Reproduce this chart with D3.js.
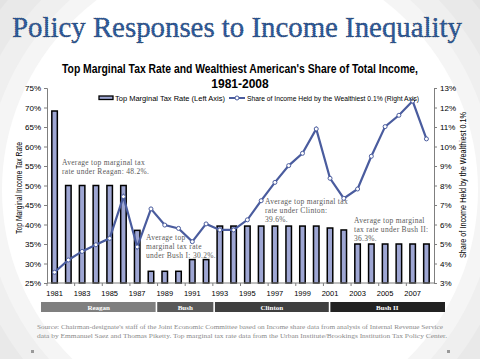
<!DOCTYPE html>
<html>
<head>
<meta charset="utf-8">
<script src="https://cdn.jsdelivr.net/npm/d3@7"></script>
<style>
  body { margin: 0; background: #fff; }
  svg { display: block; }
</style>
</head>
<body>
<svg id="chart"></svg>
<script>
var width = 480;
var height = 359;

// data
var years = [1981, 1982, 1983, 1984, 1985, 1986, 1987, 1988, 1989, 1990,
             1991, 1992, 1993, 1994, 1995, 1996, 1997, 1998, 1999, 2000,
             2001, 2002, 2003, 2004, 2005, 2006, 2007, 2008];
var taxRate = [69.1, 50, 50, 50, 50, 50, 38.5, 28, 28, 28,
               31, 31, 39.6, 39.6, 39.6, 39.6, 39.6, 39.6, 39.6, 39.6,
               39.1, 38.6, 35, 35, 35, 35, 35, 35];
var topShare = [3.55, 4.18, 4.62, 4.96, 5.29, 7.43, 4.85, 6.8, 5.97, 5.8,
                5.12, 6.03, 5.72, 5.72, 6.24, 7.22, 8.16, 9.02, 9.65, 10.9,
                8.37, 7.34, 7.82, 9.5, 11.02, 11.6, 12.33, 10.39];
var xTickYears = [1981, 1983, 1985, 1987, 1989, 1991, 1993, 1995, 1997, 1999, 2001, 2003, 2005, 2007];
var leftTicks = [25, 30, 35, 40, 45, 50, 55, 60, 65, 70, 75];
var rightTicks = [3, 4, 5, 6, 7, 8, 9, 10, 11, 12, 13];

var presidents = ['Reagan', 'Bush', 'Clinton', 'Bush II'];
var termStart = [1981, 1989, 1993, 2001];
var termEnd = [1989, 1993, 2001, 2009];
var termColor = ['#7f7f7f', '#595959', '#3f3f3f', '#222222'];

var notes = [
  ['Average top marginal tax', 'rate under Reagan: 48.2%.'],
  ['Average top', 'marginal tax rate', 'under Bush I: 30.2%.'],
  ['Average top marginal tax', 'rate under Clinton:', '39.6%.'],
  ['Average top marginal', 'tax rate under Bush II:', '36.3%.']
];
var notePos = [[62, 165], [146, 240], [265, 204], [354, 223]];

var svg = d3.select('#chart').attr('width', width).attr('height', height);

// slide background: soft concentric rings
var rings = [[330, '#e3e3e3'], [300, '#e9e9e9'], [275, '#efefef'], [255, '#f5f5f5'], [238, '#ffffff']];
svg.append('rect').attr('width', width).attr('height', height).attr('fill', '#dedede');
svg.selectAll('.ring')
  .data(rings)
  .enter()
  .append('circle')
  .attr('class', 'ring')
  .attr('cx', 240).attr('cy', 190)
  .attr('r', function(d) { return d[0]; })
  .attr('fill', function(d) { return d[1]; });

// slide title (dotted dark edge like the original's shadow)
svg.append('text')
  .attr('x', 12).attr('y', 37)
  .attr('textLength', 450).attr('lengthAdjust', 'spacingAndGlyphs')
  .style('font-family', 'Liberation Serif, serif').style('font-size', '30px')
  .attr('fill', '#2c5b9f')
  .attr('stroke', '#1b2a40').attr('stroke-width', 0.6)
  .attr('stroke-dasharray', '1,1')
  .text('Policy Responses to Income Inequality');

// chart title
var chartTitle = svg.append('g')
  .style('font-family', 'Liberation Sans, Arial, sans-serif')
  .style('font-weight', 'bold').style('font-size', '12px')
  .attr('text-anchor', 'middle').attr('fill', '#000');
chartTitle.append('text').attr('x', 240).attr('y', 73)
  .attr('textLength', 356).attr('lengthAdjust', 'spacingAndGlyphs')
  .text("Top Marginal Tax Rate and Wealthiest American's Share of Total Income,");
chartTitle.append('text').attr('x', 240).attr('y', 88)
  .text('1981-2008');

// scales
var plotLeft = 47, plotRight = 434, plotTop = 88, plotBottom = 283;

var x = d3.scaleBand()
  .domain(years)
  .range([plotLeft, plotRight])
  .paddingInner(0.6).paddingOuter(0.35);

var yLeft = d3.scaleLinear().domain([25, 75]).range([plotBottom, plotTop]);
var yRight = d3.scaleLinear().domain([3, 13]).range([plotBottom, plotTop]);

// bars
svg.append('g').selectAll('.bar')
  .data(taxRate)
  .enter()
  .append('rect')
  .attr('class', 'bar')
  .attr('x', function(d, i) { return x(years[i]); })
  .attr('width', x.bandwidth())
  .attr('y', function(d) { return yLeft(d); })
  .attr('height', function(d) { return yLeft(25) - yLeft(d); })
  .attr('fill', '#9ea6d3')
  .attr('stroke', '#000')
  .attr('stroke-width', 1.5);

// line
var line = d3.line()
  .x(function(d, i) { return x(years[i]) + x.bandwidth() / 2; })
  .y(function(d) { return yRight(d); });

svg.append('path')
  .datum(topShare)
  .attr('d', line)
  .attr('fill', 'none')
  .attr('stroke', '#4a5c9e')
  .attr('stroke-width', 2.2);

svg.append('g').selectAll('.dot')
  .data(topShare)
  .enter()
  .append('circle')
  .attr('class', 'dot')
  .attr('cx', function(d, i) { return x(years[i]) + x.bandwidth() / 2; })
  .attr('cy', function(d) { return yRight(d); })
  .attr('r', 2)
  .attr('fill', '#fff')
  .attr('stroke', '#4a5c9e')
  .attr('stroke-width', 1);

// axes
var axisFont = 'Liberation Sans, Arial, sans-serif';

var leftAxis = svg.append('g')
  .attr('transform', 'translate(' + plotLeft + ',0)')
  .call(d3.axisLeft(yLeft).tickValues(leftTicks).tickSize(3).tickPadding(3)
    .tickFormat(function(d) { return d + '%'; }));

var rightAxis = svg.append('g')
  .attr('transform', 'translate(' + plotRight + ',0)')
  .call(d3.axisRight(yRight).tickValues(rightTicks).tickSize(3).tickPadding(3)
    .tickFormat(function(d) { return d + '%'; }));

// bottom axis: ticks on band edges every two years, labels under odd years
var xLin = d3.scaleLinear().domain([1981, 2009]).range([plotLeft, plotRight]);
var bottomAxis = svg.append('g')
  .attr('transform', 'translate(0,' + plotBottom + ')');
bottomAxis.append('line')
  .attr('x1', plotLeft).attr('x2', plotRight)
  .attr('stroke', '#7f7f7f');
bottomAxis.selectAll('.xtick')
  .data(xTickYears)
  .enter()
  .append('line')
  .attr('class', 'xtick')
  .attr('x1', function(d) { return xLin(d); })
  .attr('x2', function(d) { return xLin(d); })
  .attr('y1', 0).attr('y2', 3)
  .attr('stroke', '#7f7f7f');
bottomAxis.selectAll('.xlab')
  .data(xTickYears)
  .enter()
  .append('text')
  .attr('class', 'xlab')
  .attr('x', function(d) { return x(d) + x.bandwidth() / 2; })
  .attr('y', 13)
  .attr('text-anchor', 'middle')
  .style('font-family', axisFont).style('font-size', '7.5px')
  .attr('fill', '#000')
  .text(function(d) { return d; });

[leftAxis, rightAxis].forEach(function(g) {
  g.selectAll('path, line').attr('stroke', '#7f7f7f');
  g.selectAll('text').style('font-family', axisFont).style('font-size', '8px').attr('fill', '#000');
});

// axis titles
svg.append('text')
  .attr('transform', 'translate(22,188) rotate(-90)')
  .attr('text-anchor', 'middle')
  .style('font-family', axisFont).style('font-size', '9px')
  .attr('textLength', 92).attr('lengthAdjust', 'spacingAndGlyphs')
  .text('Top Marginal Income Tax Rate');
svg.append('text')
  .attr('transform', 'translate(466,185) rotate(-90)')
  .attr('text-anchor', 'middle')
  .style('font-family', axisFont).style('font-size', '9px')
  .attr('textLength', 146).attr('lengthAdjust', 'spacingAndGlyphs')
  .text('Share of Income Held by the Wealthiest 0.1%');

// legend
var legend = svg.append('g')
  .style('font-family', axisFont).style('font-size', '7.5px');
legend.append('rect')
  .attr('x', 99).attr('y', 96).attr('width', 14).attr('height', 3.5)
  .attr('fill', '#9ea6d3').attr('stroke', '#000').attr('stroke-width', 1.3);
legend.append('text').attr('x', 115).attr('y', 101)
  .attr('textLength', 110).attr('lengthAdjust', 'spacingAndGlyphs')
  .text('Top Marginal Tax Rate (Left Axis)');
legend.append('line')
  .attr('x1', 229).attr('x2', 245).attr('y1', 98).attr('y2', 98)
  .attr('stroke', '#4a5c9e').attr('stroke-width', 2);
legend.append('circle')
  .attr('cx', 237).attr('cy', 98).attr('r', 2)
  .attr('fill', '#fff').attr('stroke', '#4a5c9e');
legend.append('text').attr('x', 247).attr('y', 101)
  .attr('textLength', 172).attr('lengthAdjust', 'spacingAndGlyphs')
  .text('Share of Income Held by the Wealthiest 0.1% (Right Axis)');

// annotations
var noteG = svg.append('g')
  .style('font-family', 'Liberation Serif, serif').style('font-size', '7.5px')
  .attr('fill', '#5a5a5a');
notes.forEach(function(lines, k) {
  var t = noteG.append('text')
    .attr('x', notePos[k][0]).attr('y', notePos[k][1])
    .style('letter-spacing', '0.3px');
  lines.forEach(function(s, j) {
    t.append('tspan').attr('x', notePos[k][0]).attr('dy', j === 0 ? 0 : 9.2).text(s);
  });
});

// president band under the axis
var termX = d3.scaleLinear().domain([1981, 2009]).range([41, 445]);
var terms = svg.append('g');
terms.selectAll('rect')
  .data(presidents)
  .enter()
  .append('rect')
  .attr('x', function(d, i) { return termX(termStart[i]) + (i === 0 ? 0 : 0.8); })
  .attr('width', function(d, i) { return termX(termEnd[i]) - termX(termStart[i]) - (i === 0 ? 0.8 : 1.6) + (i === 3 ? 0.8 : 0); })
  .attr('y', 302).attr('height', 10)
  .attr('fill', function(d, i) { return termColor[i]; });
terms.selectAll('text')
  .data(presidents)
  .enter()
  .append('text')
  .attr('x', function(d, i) { return (termX(termStart[i]) + termX(termEnd[i])) / 2; })
  .attr('y', 310)
  .attr('text-anchor', 'middle')
  .style('font-family', 'Liberation Serif, serif').style('font-size', '7px')
  .style('font-weight', 'bold')
  .attr('fill', '#fff')
  .text(function(d) { return d; });

// source
var src = svg.append('g')
  .style('font-family', 'Liberation Serif, serif').style('font-size', '6.6px')
  .attr('fill', '#8a8a8a');
src.append('text').attr('x', 37).attr('y', 329)
  .attr('textLength', 406).attr('lengthAdjust', 'spacingAndGlyphs')
  .text("Source: Chairman-designate's staff of the Joint Economic Committee based on Income share data from analysis of Internal Revenue Service");
src.append('text').attr('x', 37).attr('y', 338)
  .attr('textLength', 410).attr('lengthAdjust', 'spacingAndGlyphs')
  .text('data by Emmanuel Saez and Thomas Piketty. Top marginal tax rate data from the Urban Institute/Brookings Institution Tax Policy Center.');
src.append('rect').attr('x', 31).attr('y', 350).attr('width', 3).attr('height', 3).attr('fill', '#999');
src.append('rect').attr('x', 447).attr('y', 350).attr('width', 3).attr('height', 3).attr('fill', '#999');
</script>
</body>
</html>
